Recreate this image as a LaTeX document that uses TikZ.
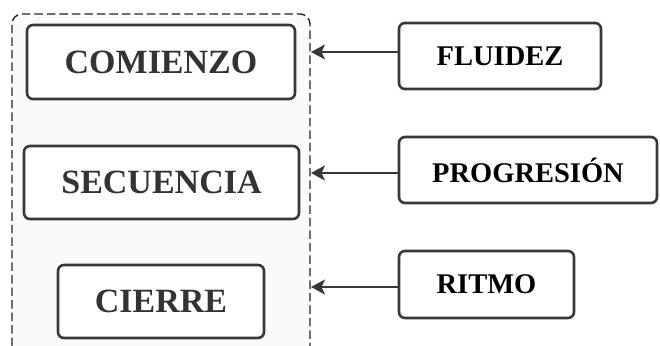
\documentclass[tikz,border=0pt]{standalone}
\usepackage{fontspec}
\setmainfont{Liberation Serif}
\usetikzlibrary{arrows.meta}
\begin{document}
\begin{tikzpicture}[x=1pt,y=1pt,
  stagebox/.style={draw=black!78, line width=2.6pt, rounded corners=6pt, fill=white,
    text=black!80, font=\bfseries\fontsize{34}{34}\selectfont, inner sep=0pt},
  traitbox/.style={draw=black!78, line width=2.6pt, rounded corners=6pt, fill=white,
    text=black, font=\bfseries\fontsize{28.5}{28.5}\selectfont, inner sep=0pt},
  link/.style={draw=black!78, line width=1.8pt, -{Stealth[length=14pt,width=15pt,inset=3.5pt]}}]
\useasboundingbox (0,0) rectangle (660,345);
\begin{scope}
\clip (0,0) rectangle (660,345);
% dashed container holding the three stages
\draw[black!85, line width=1.4pt, dash pattern=on 8.5pt off 4pt, rounded corners=10pt, fill=black!2]
  (12,-1) -- (12,331) -- (310,331) -- (310,-1);
\end{scope}
% stages of the text
\node[stagebox, minimum width=268pt, minimum height=74pt] (com) at (161,283) {COMIENZO};
\node[stagebox, minimum width=275pt, minimum height=73pt] (sec) at (161.5,162.5) {SECUENCIA};
\node[stagebox, minimum width=206pt, minimum height=73pt] (cie) at (161,43.5) {CIERRE};
% qualities
\node[traitbox, minimum width=202pt, minimum height=66pt] (flu) at (500,289) {FLUIDEZ};
\node[traitbox, minimum width=258pt, minimum height=66pt] (pro) at (528,175) {PROGRESIÓN};
\node[traitbox, minimum width=175pt, minimum height=67pt] (rit) at (486.5,60.5) {RITMO};
% connectors to the container edge
\coordinate (e1) at (311,293);
\coordinate (e2) at (311,172);
\coordinate (e3) at (311,58);
\draw[link] (flu.west |- e1) -- (e1);
\draw[link] (pro.west |- e2) -- (e2);
\draw[link] (rit.west |- e3) -- (e3);
\end{tikzpicture}
\end{document}
